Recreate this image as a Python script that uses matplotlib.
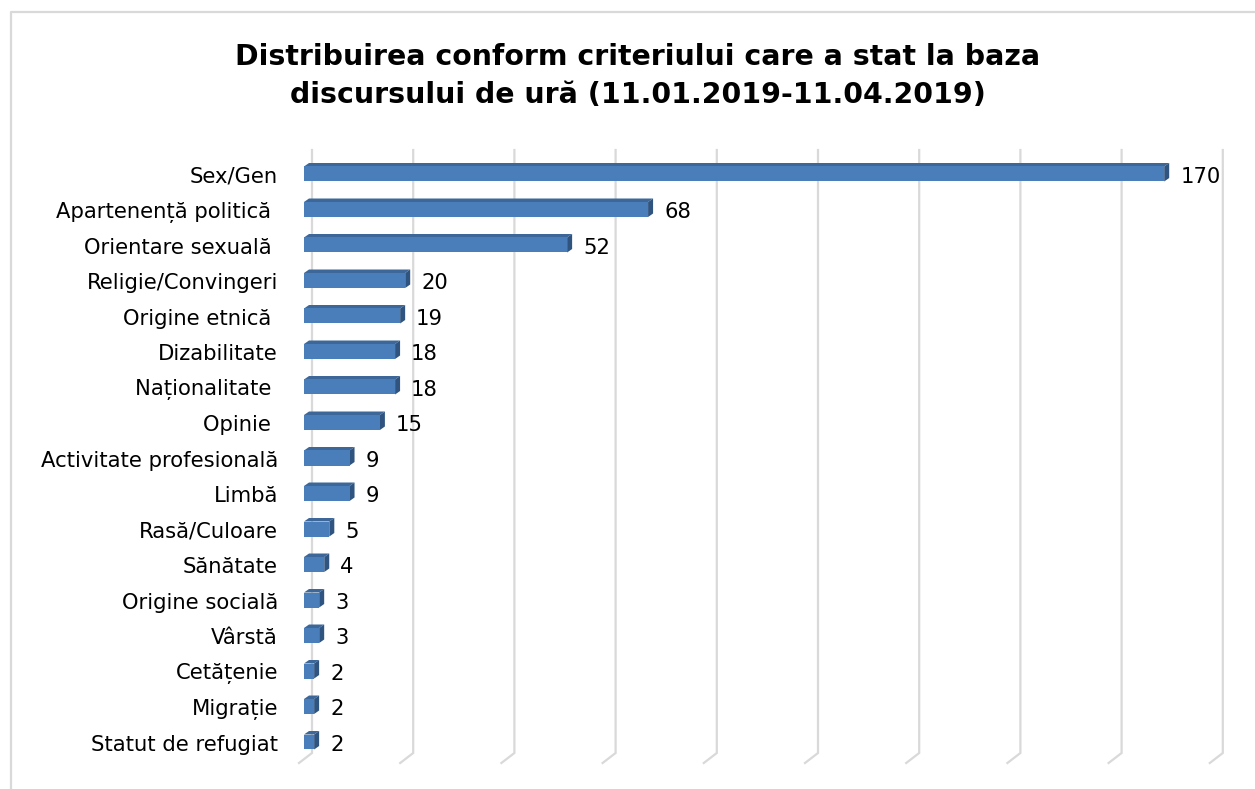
import numpy as np
import matplotlib
matplotlib.use('Agg')
import matplotlib.pyplot as plt
from matplotlib.patches import Polygon
from matplotlib.lines import Line2D

categories = ['Sex/Gen', 'Apartenență politică ', 'Orientare sexuală ', 'Religie/Convingeri',
              'Origine etnică ', 'Dizabilitate', 'Naționalitate ', 'Opinie ',
              'Activitate profesională', 'Limbă', 'Rasă/Culoare', 'Sănătate',
              'Origine socială', 'Vârstă', 'Cetățenie', 'Migrație', 'Statut de refugiat']
values = [170, 68, 52, 20, 19, 18, 18, 15, 9, 9, 5, 4, 3, 3, 2, 2, 2]
grid_ticks = list(range(0, 181, 20))

title = 'Distribuirea conform criteriului care a stat la baza\ndiscursului de ură (11.01.2019-11.04.2019)'

W, H = 1255, 789
fig = plt.figure(figsize=(W / 100, H / 100), dpi=100)
plt.rcParams['font.family'] = ['DejaVu Sans']

# axes placed in pixels
px_l, px_r, px_t, px_b = 290, 1245, 140, 770
ax = fig.add_axes([px_l / W, 1 - px_b / H, (px_r - px_l) / W, (px_b - px_t) / H])
ppu = 5.06          # pixels per value unit
row = 35.5          # pixels per row
x0, y0 = 304, 174   # front bar origin / first row
ax.set_xlim((px_l - x0) / ppu, (px_r - x0) / ppu)
ax.set_ylim((px_b - y0) / row, (px_t - y0) / row)
ax.axis('off')

# 3d offsets in data units
bdx, bdy = 5 / ppu, -3.5 / row        # bar depth
wall_dx = 8 / ppu                     # back wall shift
floor_dy = 10 / row
grid_top = (150 - y0) / row
floor_y = (753 - y0) / row

grid_col = '#d9d9d9'
for g in grid_ticks:
    xb = g + wall_dx
    ax.plot([xb, xb, xb - 13 / ppu], [grid_top, floor_y, floor_y + floor_dy],
            color=grid_col, lw=1.6, solid_joinstyle='miter', zorder=1)

bh = 15 / row
front_c, top_c, side_c = '#4a7ebb', '#3d6799', '#2f5480'
for i, v in enumerate(values):
    top = i - bh / 2
    bot = i + bh / 2
    ax.add_patch(Polygon([(0, top), (v, top), (v + bdx, top + bdy), (bdx, top + bdy)],
                         closed=True, facecolor=top_c, edgecolor='none', zorder=3))
    ax.add_patch(Polygon([(v, top), (v + bdx, top + bdy), (v + bdx, bot + bdy), (v, bot)],
                         closed=True, facecolor=side_c, edgecolor='none', zorder=3))
    ax.barh(i, v, height=bh, left=0, color=front_c, edgecolor='none', zorder=4)
    ax.text(v + 16 / ppu, i + 0.08, str(v), ha='left', va='center', fontsize=15.2,
            color='black', zorder=5)
    ax.text((278 - x0) / ppu, i + 0.08, categories[i], ha='right', va='center',
            fontsize=15.2, color='black', clip_on=False)

fig.text(638 / W, 1 - 76 / H, title, ha='center', va='center', fontsize=20.4,
         fontweight='bold', linespacing=1.42)

# chart border (only top and left visible)
fig.add_artist(Line2D([11.5 / W, 11.5 / W, 1.0], [0.0, 1 - 11.5 / H, 1 - 11.5 / H],
                      transform=fig.transFigure, color='#d9d9d9', lw=1.6))

fig.savefig('out.png', dpi=100)
